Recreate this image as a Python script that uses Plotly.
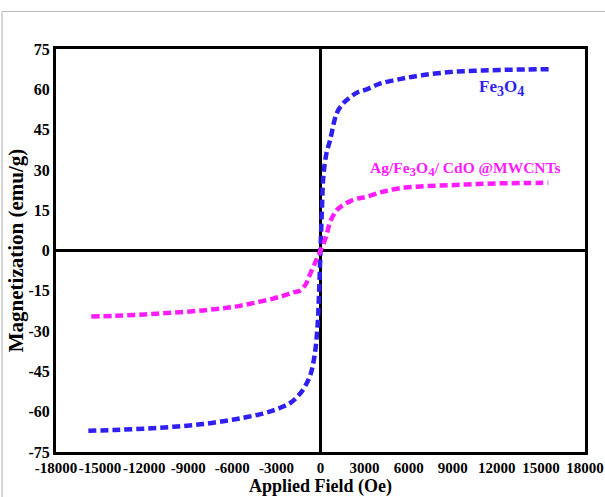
import plotly.graph_objects as go

# Applied field (Oe) and magnetization (emu/g) for each sample
field_fe3o4 = [-15800, -14000, -12000, -10000, -8000, -6000, -5000, -4000, -3200,
               -2500, -2000, -1500, -1100, -700, -400, -200, -100, 0,
               100, 200, 400, 650, 1100, 1500, 2000, 2500, 3150, 4000, 5400,
               7000, 8800, 10500, 12200, 14000, 15800]
mag_fe3o4 = [-67.1, -66.8, -66.3, -65.6, -64.6, -63.0, -62.0, -60.8, -59.5,
             -58.0, -56.5, -54.0, -51.0, -46.5, -39.0, -28.0, -16.0, 0.0,
             16.0, 28.0, 36.0, 41.0, 51.0, 54.5, 57.0, 58.8, 60.0, 62.0, 63.8,
             65.3, 66.4, 66.9, 67.2, 67.4, 67.5]

field_composite = [-15600, -14000, -12000, -10000, -8000, -6500, -5500, -4500,
                   -3300, -2500, -1800, -1400, -1000, -700, -400, -200, 0,
                   200, 400, 650, 1100, 1500, 2000, 2500, 3150, 4200, 5400,
                   7000, 8800, 10500, 12200, 14000, 15500]
mag_composite = [-24.6, -24.3, -23.8, -23.1, -22.3, -21.4, -20.6, -19.5,
                 -18.0, -16.8, -15.5, -15.0, -12.5, -8.7, -5.0, -2.5, 0.0,
                 2.5, 5.5, 10.5, 15.0, 16.8, 18.3, 19.3, 20.0, 21.8, 23.2,
                 23.9, 24.3, 24.7, 25.0, 25.1, 25.2]

x_ticks = list(range(-18000, 18001, 3000))
y_ticks = list(range(-75, 76, 15))


def sub(d, size):
    return f"<sub><span style='font-size:{size}px'>{d}</span></sub>"


label_fe3o4 = "Fe" + sub(3, 14) + "O" + sub(4, 14)
label_composite = "Ag/Fe" + sub(3, 13) + "O" + sub(4, 13) + "/ CdO @MWCNTs"

BLUE = "#2f1ff0"
MAGENTA = "#ff1cff"
SERIF = "Liberation Serif"

fig = go.Figure()
fig.add_trace(go.Scatter(x=field_fe3o4, y=mag_fe3o4, mode="lines",
                         line=dict(color=BLUE, width=4.5, dash="8px,4px", shape="spline"),
                         hoverinfo="skip"))
fig.add_trace(go.Scatter(x=field_composite, y=mag_composite, mode="lines",
                         line=dict(color=MAGENTA, width=4.5, dash="8px,4px", shape="spline"),
                         hoverinfo="skip"))

W, H = 605, 497
ml, mr, mt, mb = 56, 20, 49, 45
pw, ph = W - ml - mr, H - mt - mb


def px_to_paper(px, py):
    return (px - ml) / pw, (H - mb - py) / ph


# thin grey frame around the figure
x0, y0 = px_to_paper(2, 11.5)
x1, y1 = px_to_paper(W + 5, H + 5)
fig.add_shape(type="line", xref="paper", yref="paper", x0=x0, y0=y0, x1=x1, y1=y0,
              line=dict(color="#bdbdbd", width=1.2))
fig.add_shape(type="line", xref="paper", yref="paper", x0=x0, y0=y0, x1=x0, y1=y1,
              line=dict(color="#bdbdbd", width=1.2))

fig.add_annotation(x=12300, y=60.5, text=label_fe3o4, showarrow=False,
                   font=dict(family=SERIF, size=17, color=BLUE, weight="bold"))
fig.add_annotation(x=9850, y=30.5, text=label_composite, showarrow=False,
                   font=dict(family=SERIF, size=15.5, color=MAGENTA, weight="bold"))

axis_common = dict(showgrid=False, showline=True, mirror=True, linecolor="black",
                   linewidth=3, zeroline=True, zerolinecolor="black", zerolinewidth=2.5,
                   ticks="", automargin=False)

fig.update_xaxes(range=[-18000, 18000], tickvals=x_ticks, tickangle=0,
                 ticktext=[str(v) for v in x_ticks],
                 tickfont=dict(family=SERIF, size=15, color="black", weight="bold"),
                 title=dict(text="Applied Field (Oe)", standoff=0,
                            font=dict(family=SERIF, size=18, color="black", weight="bold")),
                 **axis_common)
fig.update_yaxes(range=[-75, 75], tickvals=y_ticks,
                 ticktext=[str(v) for v in y_ticks],
                 tickfont=dict(family=SERIF, size=16, color="black", weight="bold"),
                 title=dict(text="Magnetization (emu/g)", standoff=0,
                            font=dict(family=SERIF, size=21, color="black", weight="bold")),
                 **axis_common)

fig.update_layout(width=W, height=H, showlegend=False,
                  margin=dict(l=ml, r=mr, t=mt, b=mb),
                  paper_bgcolor="white", plot_bgcolor="white")

fig.write_html("out.html")
